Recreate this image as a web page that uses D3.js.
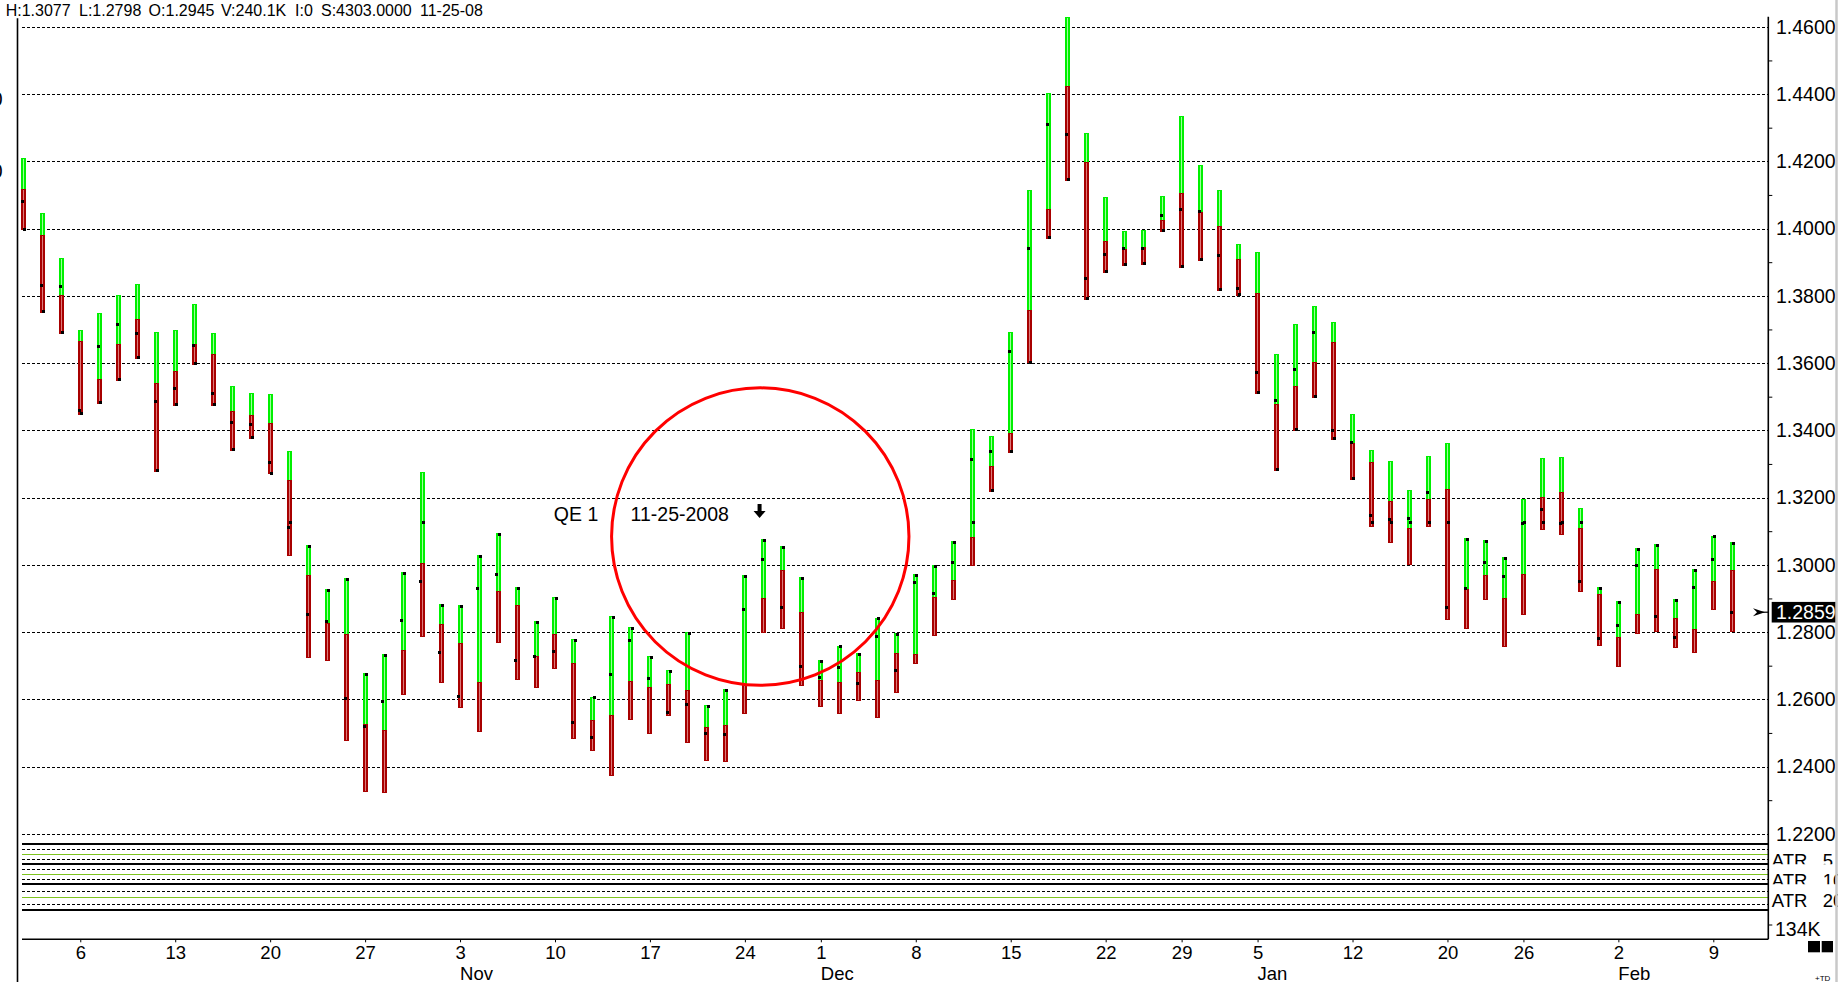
<!DOCTYPE html>
<html>
<head>
<meta charset="utf-8">
<script src="https://cdn.jsdelivr.net/npm/d3@7"></script>
<style>
  body { margin: 0; background: #fff; overflow: hidden; }
  svg { display: block; font-family: "Liberation Sans", Arial, sans-serif; }
</style>
</head>
<body>
<div id="chart"></div>
<script>
// daily bars, Oct 1 2008 - Feb 10 2009
var dates = [
  "2008-10-01","2008-10-02","2008-10-03","2008-10-06","2008-10-07","2008-10-08","2008-10-09","2008-10-10",
  "2008-10-13","2008-10-14","2008-10-15","2008-10-16","2008-10-17","2008-10-20","2008-10-21","2008-10-22",
  "2008-10-23","2008-10-24","2008-10-27","2008-10-28","2008-10-29","2008-10-30","2008-10-31",
  "2008-11-03","2008-11-04","2008-11-05","2008-11-06","2008-11-07","2008-11-10","2008-11-11","2008-11-12",
  "2008-11-13","2008-11-14","2008-11-17","2008-11-18","2008-11-19","2008-11-20","2008-11-21","2008-11-24",
  "2008-11-25","2008-11-26","2008-11-28",
  "2008-12-01","2008-12-02","2008-12-03","2008-12-04","2008-12-05","2008-12-08","2008-12-09","2008-12-10",
  "2008-12-11","2008-12-12","2008-12-15","2008-12-16","2008-12-17","2008-12-18","2008-12-19","2008-12-22",
  "2008-12-23","2008-12-24","2008-12-26","2008-12-29","2008-12-30","2008-12-31",
  "2009-01-02","2009-01-05","2009-01-06","2009-01-07","2009-01-08","2009-01-09","2009-01-12","2009-01-13",
  "2009-01-14","2009-01-15","2009-01-16","2009-01-20","2009-01-21","2009-01-22","2009-01-23","2009-01-26",
  "2009-01-27","2009-01-28","2009-01-29","2009-01-30",
  "2009-02-02","2009-02-03","2009-02-04","2009-02-05","2009-02-06","2009-02-09","2009-02-10"
];

var highs = [
  1.4209,1.4046,1.3912,1.3697,1.3748,1.3801,1.3835,1.3692,1.3698,1.3776,1.3689,1.3532,1.3511,1.3508,1.3338,1.3059,
  1.2928,1.2961,1.2678,1.2735,1.2979,1.3276,1.2883,
  1.2880,1.3028,1.3094,1.2933,1.2832,1.2903,1.2778,1.2608,1.2847,1.2814,1.2728,1.2686,1.2799,1.2582,1.2630,1.2969,
  1.3076,1.3055,1.2963,
  1.2716,1.2759,1.2737,1.2843,1.2797,1.2973,1.2999,1.3071,1.3404,1.3383,1.3692,1.4114,1.4402,1.4629,1.4283,1.4093,
  1.3993,1.3996,1.4097,1.4335,1.4189,1.4115,
  1.3954,1.3930,1.3627,1.3716,1.3770,1.3722,1.3448,1.3341,1.3309,1.3222,1.3324,1.3362,1.3080,1.3074,1.3023,1.3197,
  1.3318,1.3321,1.3169,1.2934,
  1.2892,1.3050,1.3062,1.2898,1.2988,1.3087,1.3068
];

// green above this level, red below it
var mids = [
  1.4118,1.3981,1.3801,1.3666,1.3553,1.3657,1.3731,1.3541,1.3576,1.3657,1.3627,1.3457,1.3446,1.3422,1.3252,1.2970,
  1.2827,1.2795,1.2527,1.2510,1.2747,1.3005,1.2824,
  1.2767,1.2651,1.2922,1.2880,1.2729,1.2795,1.2708,1.2538,1.2553,1.2655,1.2637,1.2645,1.2629,1.2518,1.2523,1.2645,
  1.2901,1.2985,1.2860,
  1.2657,1.2651,1.2681,1.2657,1.2738,1.2735,1.2904,1.2955,1.3083,1.3294,1.3392,1.3758,1.4058,1.4424,1.4198,1.3963,
  1.3939,1.3944,1.4025,1.4106,1.4049,1.4008,
  1.3909,1.3808,1.3479,1.3532,1.3603,1.3663,1.3363,1.3306,1.3190,1.3110,1.3196,1.3225,1.2927,1.2970,1.2901,1.2973,
  1.3202,1.3217,1.3110,1.2913,
  1.2785,1.2854,1.2988,1.2842,1.2809,1.2952,1.2985
];

var lows = [
  1.3996,1.3750,1.3687,1.3446,1.3479,1.3548,1.3613,1.3277,1.3473,1.3595,1.3473,1.3339,1.3375,1.3269,1.3027,1.2724,
  1.2715,1.2477,1.2325,1.2322,1.2614,1.2786,1.2649,
  1.2575,1.2504,1.2768,1.2656,1.2633,1.2689,1.2481,1.2445,1.2371,1.2538,1.2496,1.2549,1.2469,1.2416,1.2413,1.2555,
  1.2797,1.2808,1.2639,
  1.2576,1.2555,1.2594,1.2544,1.2618,1.2706,1.2789,1.2896,1.2996,1.3217,1.3333,1.3599,1.3970,1.4142,1.3788,1.3869,
  1.3890,1.3893,1.3991,1.3884,1.3904,1.3815,
  1.3800,1.3509,1.3280,1.3399,1.3497,1.3372,1.3253,1.3111,1.3064,1.2999,1.3111,1.2835,1.2808,1.2894,1.2755,1.2850,
  1.3103,1.3088,1.2918,1.2758,
  1.2695,1.2793,1.2801,1.2752,1.2737,1.2865,1.2799
];

// left tick of each bar
var leftTicks = [
  1.4080,1.3831,1.3828,1.3459,1.3650,1.3715,1.3689,1.3486,1.3525,1.3653,1.3510,1.3424,1.3418,1.3305,1.3111,1.2853,
  1.2832,1.2603,1.2520,1.2594,1.2835,1.2951,1.2740,
  1.2609,1.2930,1.2972,1.2716,1.2728,1.2741,1.2532,1.2487,1.2674,1.2775,1.2662,1.2561,1.2585,1.2499,1.2496,1.2868,
  1.3016,1.2874,1.2698,
  1.2665,1.2695,1.2648,1.2787,1.2686,1.2948,1.2915,1.3007,1.3314,1.3338,1.3635,1.3941,1.4310,1.4280,1.3852,1.3923,
  1.3941,1.3941,1.4039,1.4057,1.4051,1.3920,
  1.3822,1.3572,1.3489,1.3581,1.3691,1.3400,1.3364,1.3147,1.3135,1.3138,1.3216,1.2874,1.2930,1.3007,1.2966,1.3123,
  1.3165,1.3123,1.2951,1.2781,
  1.2820,1.2999,1.2847,1.2784,1.2933,1.3016,1.2859
];

// right tick of each bar
var rightTicks = [
  1.3998,1.3754,1.3691,1.3451,1.3483,1.3552,1.3617,1.3281,1.3477,1.3599,1.3477,1.3344,1.3379,1.3273,1.3126,1.3055,
  1.2924,1.2957,1.2674,1.2731,1.2975,1.3126,1.2880,
  1.2877,1.3025,1.3091,1.2930,1.2829,1.2900,1.2775,1.2605,1.2844,1.2811,1.2725,1.2683,1.2796,1.2579,1.2627,1.2966,
  1.3073,1.3052,1.2960,
  1.2713,1.2756,1.2734,1.2840,1.2794,1.2969,1.2996,1.3067,1.3126,1.3222,1.3338,1.3602,1.3974,1.4146,1.3793,1.3873,
  1.3894,1.3897,1.3995,1.3888,1.3909,1.3819,
  1.3804,1.3513,1.3284,1.3403,1.3501,1.3376,1.3257,1.3126,1.3126,1.3126,1.3126,1.3126,1.3076,1.3070,1.3019,1.3126,
  1.3126,1.3126,1.3126,1.2930,
  1.2888,1.3046,1.3058,1.2894,1.2984,1.3083,1.3064
];

var priceTicks = [1.22,1.24,1.26,1.28,1.30,1.32,1.34,1.36,1.38,1.40,1.42,1.44,1.46];
var minorTicks = [1.23,1.25,1.27,1.29,1.31,1.33,1.35,1.37,1.39,1.41,1.43,1.45];

var weekTicks = ["2008-10-06","2008-10-13","2008-10-20","2008-10-27","2008-11-03","2008-11-10","2008-11-17",
  "2008-11-24","2008-12-01","2008-12-08","2008-12-15","2008-12-22","2008-12-29","2009-01-05","2009-01-12",
  "2009-01-20","2009-01-26","2009-02-02","2009-02-09"];
var monthTicks = ["2008-11-03","2008-12-01","2009-01-05","2009-02-02"];
var monthNames = ["Nov","Dec","Jan","Feb"];

var headerItems = ["H:1.3077","L:1.2798","O:1.2945","V:240.1K","I:0","S:4303.0000","11-25-08"];
var headerX = [5.7, 79, 148.6, 221, 295, 321, 420];

var atrLabels = ["5","10","20"];
var lastPrice = 1.2859;
var volumeLabel = "134K";

var qeDate = "2008-11-25", qeLabel = "QE 1", qeDateLabel = "11-25-2008";

var W = 1838, H = 982;
var axisLeftX = 17.5, axisRightX = 1768.3, gridLeft = 22, xAxisY = 939.3;

var svg = d3.select("#chart").append("svg")
    .attr("width", W)
    .attr("height", H);

var x = d3.scalePoint().domain(dates).range([23.3, 1732.3]);
var y = d3.scaleLinear().domain([1.22, 1.46]).range([833.8, 26.8]);

var parseDay = d3.timeParse("%Y-%m-%d");

// snap a horizontal 1px line to the pixel grid
function px(v) { return Math.round(v) + 0.5; }

// header line
svg.append("g").selectAll("text")
    .data(headerItems)
    .enter().append("text")
    .attr("x", function(d, i) { return headerX[i]; })
    .attr("y", 15.7)
    .style("font-size", "16px")
    .text(function(d) { return d; });

// cut off labels of the hidden left scale
svg.append("g").selectAll("text")
    .data([99.3, 170.7])
    .enter().append("text")
    .attr("x", 2.5)
    .attr("y", function(d) { return d; })
    .attr("dy", "0.35em")
    .attr("text-anchor", "end")
    .style("font-size", "19.5px")
    .text("0");

// price gridlines
svg.append("g").selectAll("line")
    .data(priceTicks)
    .enter().append("line")
    .attr("x1", gridLeft).attr("x2", axisRightX)
    .attr("y1", function(d) { return px(y(d)); })
    .attr("y2", function(d) { return px(y(d)); })
    .attr("stroke", "#000")
    .attr("stroke-width", 1)
    .attr("stroke-dasharray", "3,2")
    .attr("shape-rendering", "crispEdges");

// ATR panels
var panels = [
  {label: atrLabels[0], top: 844.3, bottom: 864.3},
  {label: atrLabels[1], top: 864.3, bottom: 884.3},
  {label: atrLabels[2], top: 884.3, bottom: 910.3}
];
var pg = svg.append("g").attr("shape-rendering", "crispEdges");
panels.forEach(function(p, i) {
  var py = d3.scaleLinear().domain([0, 1]).range([p.bottom, p.top]);
  pg.append("line").attr("x1", gridLeft).attr("x2", axisRightX)
    .attr("y1", p.top).attr("y2", p.top)
    .attr("stroke", "#000").attr("stroke-width", 2);
  [0.25, 0.75].forEach(function(f) {
    pg.append("line").attr("x1", gridLeft).attr("x2", axisRightX)
      .attr("y1", px(py(f))).attr("y2", px(py(f)))
      .attr("stroke", "#000").attr("stroke-dasharray", "3,2");
  });
  pg.append("line").attr("x1", gridLeft).attr("x2", axisRightX)
    .attr("y1", px(py(0.5))).attr("y2", px(py(0.5)))
    .attr("stroke", "#7ec41e").attr("stroke-width", 1);

  var cid = "atrclip" + i;
  svg.append("clipPath").attr("id", cid).append("rect")
    .attr("x", axisRightX + 1).attr("y", p.top + 1)
    .attr("width", W - axisRightX).attr("height", p.bottom - p.top - 1);
  var lg = svg.append("g").attr("clip-path", "url(#" + cid + ")")
    .style("font-size", "18.5px");
  lg.append("text").attr("x", 1771.7).attr("y", p.top + 22.5).text("ATR");
  lg.append("text").attr("x", 1822.7).attr("y", p.top + 22.5).text(p.label);
});
pg.append("line").attr("x1", gridLeft).attr("x2", axisRightX)
  .attr("y1", panels[2].bottom).attr("y2", panels[2].bottom)
  .attr("stroke", "#000").attr("stroke-width", 2);

// bars
var bars = svg.append("g").attr("id", "bars")
    .attr("shape-rendering", "crispEdges")
    .selectAll("g")
    .data(dates)
    .enter().append("g");

bars.append("rect")
    .attr("x", function(d) { return x(d) - 2.5; })
    .attr("y", function(d, i) { return y(highs[i]); })
    .attr("width", 5)
    .attr("height", function(d, i) { return y(mids[i]) - y(highs[i]); })
    .style("fill", "#00f000");
bars.append("rect")
    .attr("x", function(d) { return x(d) - 2.5; })
    .attr("y", function(d, i) { return y(mids[i]); })
    .attr("width", 5)
    .attr("height", function(d, i) { return y(lows[i]) - y(mids[i]); })
    .style("fill", "#a80000");
bars.append("line")
    .attr("x1", function(d) { return x(d); })
    .attr("x2", function(d) { return x(d); })
    .attr("y1", function(d, i) { return y(highs[i]) + 1; })
    .attr("y2", function(d, i) { return y(mids[i]); })
    .attr("stroke", "#9dff9d").attr("stroke-width", 1);
bars.append("line")
    .attr("x1", function(d) { return x(d); })
    .attr("x2", function(d) { return x(d); })
    .attr("y1", function(d, i) { return y(mids[i]) + 1; })
    .attr("y2", function(d, i) { return y(lows[i]) - 1; })
    .attr("stroke", "#dc7a7a").attr("stroke-width", 1);
bars.append("rect")
    .attr("x", function(d) { return x(d) - 2.6; })
    .attr("y", function(d, i) { return y(leftTicks[i]) - 1.5; })
    .attr("width", 3).attr("height", 3)
    .style("fill", "#000");
bars.append("rect")
    .attr("x", function(d) { return x(d) - 0.4; })
    .attr("y", function(d, i) { return y(rightTicks[i]) - 1.5; })
    .attr("width", 3).attr("height", 3)
    .style("fill", "#000");

// QE 1 annotation
var qeX = x(qeDate);
svg.append("circle")
    .attr("cx", qeX - 3.6)
    .attr("cy", y(1.3084))
    .attr("r", 148.7)
    .attr("fill", "none")
    .attr("stroke", "#ff0000")
    .attr("stroke-width", 3);
var ann = svg.append("g").style("font-size", "19.5px");
ann.append("text").attr("x", qeX - 210).attr("y", 520.5).text(qeLabel);
ann.append("text").attr("x", qeX - 133.3).attr("y", 520.5).text(qeDateLabel);
var ax = qeX - 4.3;
ann.append("path")
    .attr("d", "M" + (ax - 2) + ",504 h4 v7 h4 l-6,7 l-6,-7 h4 z")
    .attr("fill", "#000");

// left axis
svg.append("line")
    .attr("x1", axisLeftX).attr("x2", axisLeftX)
    .attr("y1", 18.3).attr("y2", H)
    .attr("stroke", "#000").attr("stroke-width", 1.6);

// right price axis
var yAxisG = svg.append("g")
    .attr("transform", "translate(" + axisRightX + ",0)");
yAxisG.call(d3.axisRight(y).tickValues(priceTicks).tickSize(0).tickPadding(7.7)
    .tickFormat(d3.format(".4f")));
yAxisG.append("g").call(d3.axisRight(y).tickValues(minorTicks).tickSize(4).tickFormat(""));
yAxisG.selectAll(".domain").remove();
yAxisG.selectAll("text")
    .style("font-family", "\"Liberation Sans\", Arial, sans-serif")
    .style("font-size", "19.5px")
    .attr("fill", "#000");
yAxisG.selectAll("line").attr("stroke", "#000");

svg.append("line")
    .attr("x1", axisRightX).attr("x2", axisRightX)
    .attr("y1", 16.7).attr("y2", xAxisY)
    .attr("stroke", "#000").attr("stroke-width", 1.6);

// volume pane label
svg.append("line")
    .attr("x1", axisRightX).attr("x2", axisRightX + 4)
    .attr("y1", 925).attr("y2", 925)
    .attr("stroke", "#000");
svg.append("text")
    .attr("x", 1775).attr("y", 936)
    .style("font-size", "19.5px")
    .text(volumeLabel);

// last price marker
var lp = y(lastPrice);
svg.append("rect")
    .attr("x", 1771.7).attr("y", lp - 10.3)
    .attr("width", 64.5).attr("height", 20.6)
    .attr("fill", "#000");
svg.append("text")
    .attr("x", 1776).attr("y", lp)
    .attr("dy", "0.35em")
    .attr("fill", "#fff")
    .style("font-size", "19.5px")
    .text(d3.format(".4f")(lastPrice));
svg.append("path")
    .attr("d", "M1753," + (lp - 4) + " L1765," + lp + " L1753," + (lp + 4) + " L1757," + lp + " Z")
    .attr("fill", "#000");
svg.append("line")
    .attr("x1", 1757).attr("x2", 1768)
    .attr("y1", lp).attr("y2", lp)
    .attr("stroke", "#000").attr("stroke-width", 1.2);

// date axis
var xAxisG = svg.append("g")
    .attr("transform", "translate(0," + xAxisY + ")");
xAxisG.call(d3.axisBottom(x).tickValues(weekTicks).tickSize(3).tickPadding(4)
    .tickFormat(function(d) { return parseDay(d).getDate(); }));
xAxisG.selectAll(".domain").remove();
xAxisG.selectAll("text")
    .style("font-family", "\"Liberation Sans\", Arial, sans-serif")
    .style("font-size", "18.5px")
    .attr("fill", "#000");
xAxisG.selectAll("line").attr("stroke", "#000");

svg.append("line")
    .attr("x1", gridLeft).attr("x2", axisRightX)
    .attr("y1", xAxisY).attr("y2", xAxisY)
    .attr("stroke", "#000").attr("stroke-width", 1.6);

svg.append("g").selectAll("text")
    .data(monthTicks)
    .enter().append("text")
    .attr("x", function(d) { return x(d); })
    .attr("y", 979.5)
    .style("font-size", "18.5px")
    .text(function(d, i) { return monthNames[i]; });

// corner widgets
svg.append("rect").attr("x", 1808).attr("y", 941).attr("width", 12).attr("height", 11.3).attr("fill", "#000");
svg.append("rect").attr("x", 1821.7).attr("y", 941).attr("width", 11.3).attr("height", 11.3).attr("fill", "#000");
svg.append("text").attr("x", 1815).attr("y", 981).style("font-size", "8px").text("+TD");

// window edge
svg.append("line")
    .attr("x1", 1836.5).attr("x2", 1836.5)
    .attr("y1", 0).attr("y2", H)
    .attr("stroke", "#c8c8c8").attr("stroke-width", 2.5);
</script>
</body>
</html>
